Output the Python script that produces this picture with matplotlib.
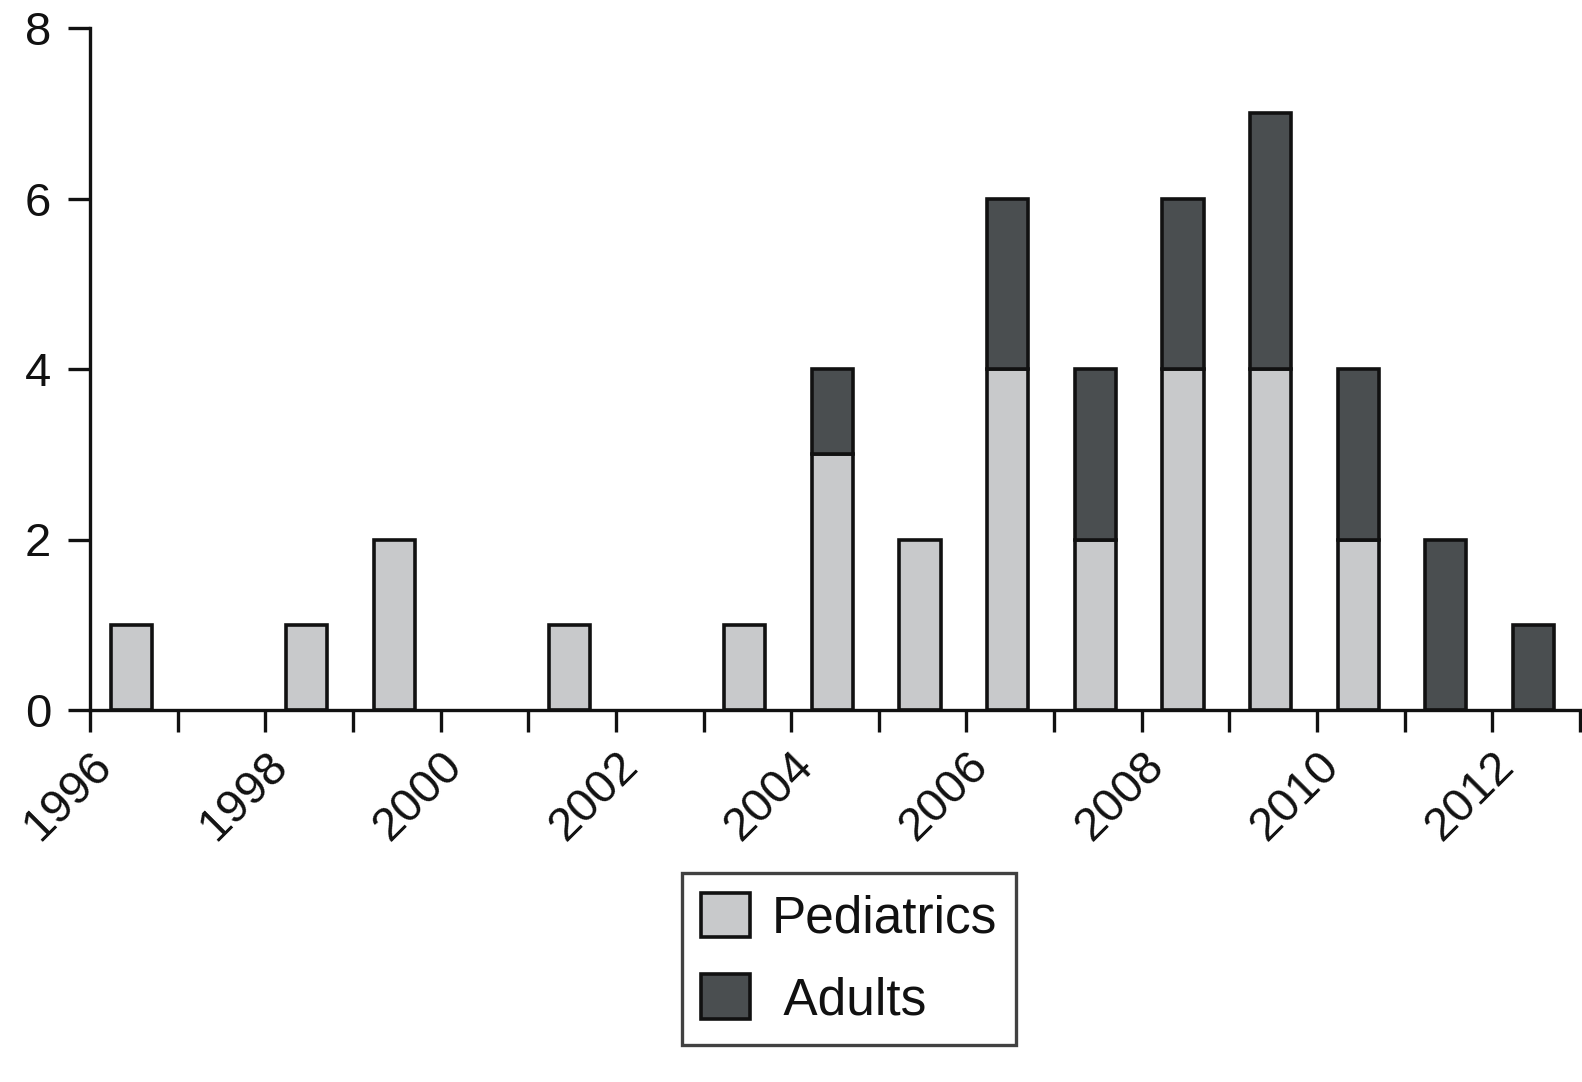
import matplotlib
matplotlib.use("Agg")
import matplotlib.pyplot as plt
from matplotlib.patches import Patch

years = [1996, 1998, 1999, 2001, 2003, 2004, 2005, 2006, 2007, 2008, 2009, 2010, 2011, 2012]
pediatrics = [1, 1, 2, 1, 1, 3, 2, 4, 2, 4, 4, 2, 0, 0]
adults = [0, 0, 0, 0, 0, 1, 0, 2, 2, 2, 3, 2, 2, 1]
tick_labels = ["1996", "1998", "2000", "2002", "2004", "2006", "2008", "2010", "2012"]

light = "#c8c9cb"
dark = "#4a4e50"

plt.rcParams['font.family'] = ['Liberation Sans', 'DejaVu Sans']

fig = plt.figure(figsize=(15.82, 10.82), dpi=100)
ax = fig.add_axes([90/1582, 1 - 710/1082, (1580-90)/1582, (710-28)/1082])

xs = [y + 0.47 for y in years]
w = 0.47
lw = 2.6
for x, p, a in zip(xs, pediatrics, adults):
    if p > 0:
        ax.bar(x, p, width=w, color=light, edgecolor="#111111", linewidth=lw, zorder=2)
    if a > 0:
        ax.bar(x, a, width=w, bottom=p, color=dark, edgecolor="#111111", linewidth=lw, zorder=2)

ax.set_xlim(1996, 2013)
ax.set_ylim(0, 8)
ax.set_yticks([0, 2, 4, 6, 8])
ax.set_xticks(range(1996, 2014), minor=True)
ax.set_xticks([int(t) for t in tick_labels])
ax.set_xticklabels(tick_labels, rotation=45, ha='right', va='top', rotation_mode='anchor')

for s in ['top', 'right']:
    ax.spines[s].set_visible(False)
for s in ['left', 'bottom']:
    ax.spines[s].set_linewidth(2.4)
    ax.spines[s].set_color('#111111')
    ax.spines[s].set_zorder(3)

ax.tick_params(axis='both', which='both', direction='out', length=16, width=2.4,
               labelsize=34, colors='#111111', labelcolor='#111111')
ax.tick_params(axis='y', pad=12)
ax.tick_params(axis='x', pad=8)

handles = [Patch(facecolor=light, edgecolor='#111111', linewidth=2.6, label='Pediatrics'),
           Patch(facecolor=dark, edgecolor='#111111', linewidth=2.6, label=' Adults')]
leg = fig.legend(handles=handles, loc='upper center', bbox_to_anchor=(849/1582, 1 - 873/1082),
                 fontsize=37, frameon=True, fancybox=False, edgecolor='#111111',
                 handlelength=0.96, handleheight=0.96, handletextpad=0.41,
                 labelspacing=0.6, borderpad=0.38, borderaxespad=0)
leg.get_frame().set_linewidth(2.4)
for t in leg.get_texts():
    t.set_color('#111111')

fig.savefig("out.png", dpi=100, facecolor="white")
